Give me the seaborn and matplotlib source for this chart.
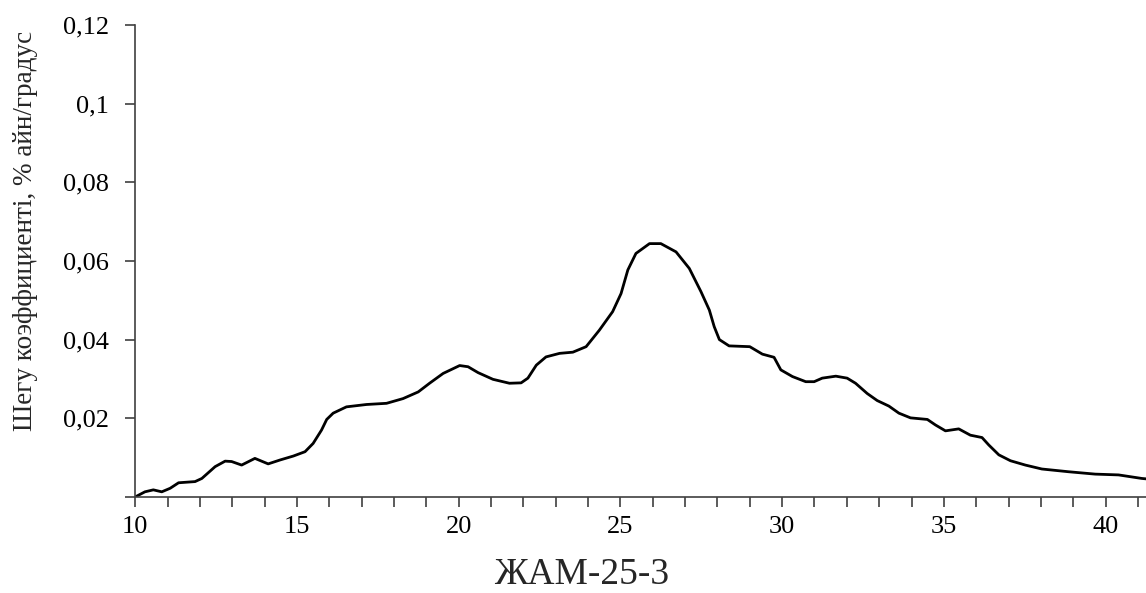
import numpy as np
import pandas as pd
import matplotlib
matplotlib.use('Agg')
import matplotlib.pyplot as plt
import seaborn as sns
from matplotlib.ticker import MultipleLocator

# curve
angle = [10.0, 10.3, 10.56, 10.82, 11.08, 11.34, 11.85, 12.06, 12.47, 12.78, 12.98,
         13.29, 13.7, 14.11, 14.48, 14.89, 15.25, 15.5, 15.76, 15.92, 16.12, 16.53,
         17.15, 17.77, 18.28, 18.75, 19.1, 19.52, 20.03, 20.29, 20.6, 21.06, 21.57,
         21.93, 22.14, 22.4, 22.7, 23.12, 23.53, 23.94, 24.35, 24.76, 25.02, 25.23,
         25.48, 25.9, 26.25, 26.72, 27.13, 27.49, 27.75, 27.9, 28.06, 28.36, 29.0,
         29.39, 29.75, 29.96, 30.32, 30.73, 30.99, 31.24, 31.66, 32.01, 32.27, 32.63,
         32.94, 33.3, 33.61, 33.97, 34.49, 34.74, 35.05, 35.46, 35.82, 36.18, 36.39,
         36.7, 37.06, 37.52, 38.03, 38.86, 39.68, 40.4, 41.12, 41.25]
coef = [0.0, 0.0013, 0.0018, 0.0013, 0.0022, 0.0036, 0.0039, 0.0047, 0.0077, 0.0091,
        0.009, 0.0081, 0.0098, 0.0084, 0.0094, 0.0104, 0.0115, 0.0136, 0.017, 0.0197,
        0.0213, 0.0229, 0.0235, 0.0238, 0.025, 0.0267, 0.0289, 0.0314, 0.0334, 0.0331,
        0.0316, 0.0299, 0.0289, 0.029, 0.0302, 0.0335, 0.0356, 0.0365, 0.0368, 0.0382,
        0.0424, 0.0471, 0.0517, 0.0577, 0.0619, 0.0644, 0.0644, 0.0623, 0.0581, 0.0522,
        0.0475, 0.0433, 0.04, 0.0384, 0.0382, 0.0363, 0.0355, 0.0323, 0.0306, 0.0293,
        0.0293, 0.0302, 0.0307, 0.0302, 0.0289, 0.0263, 0.0245, 0.0231, 0.0213, 0.0201,
        0.0197, 0.0183, 0.0168, 0.0173, 0.0157, 0.0151, 0.0132, 0.0107, 0.0092, 0.0081,
        0.0071, 0.0064, 0.0058, 0.0056, 0.0047, 0.0046]

y_ticks = [0, 0.02, 0.04, 0.06, 0.08, 0.1, 0.12]
y_labels = ['', '0,02', '0,04', '0,06', '0,08', '0,1', '0,12']
x_ticks = [10, 15, 20, 25, 30, 35, 40]

df = pd.DataFrame({'angle': angle, 'coef': coef})

sns.set_style('ticks')
plt.rcParams['font.family'] = ['Liberation Serif', 'DejaVu Serif']

fig = plt.figure(figsize=(11.46, 5.93), dpi=100)
ax = fig.add_axes([0.118, 0.162, 0.882, 0.796])

sns.lineplot(data=df, x='angle', y='coef', color='black', linewidth=2.0, ax=ax)

ax.set_xlim(10, 41.25)
ax.set_ylim(0, 0.12)
ax.set_xticks(x_ticks)
ax.set_xticklabels([str(t) for t in x_ticks])
ax.xaxis.set_minor_locator(MultipleLocator(1))
ax.set_yticks(y_ticks)
ax.set_yticklabels(y_labels)

sns.despine(ax=ax)
for s in ['left', 'bottom']:
    ax.spines[s].set_color('#404040')
    ax.spines[s].set_linewidth(1.2)
ax.tick_params(axis='both', which='both', direction='out', length=7, width=1.2,
               color='#404040', labelsize=19, labelcolor='black')
ax.tick_params(axis='x', pad=7)
ax.tick_params(axis='y', pad=12)

ax.set_xlabel('ЖАМ-25-3', fontsize=27)
ax.xaxis.set_label_coords(0.442, -0.128)
ax.set_ylabel('Шегу коэффициенті, % айн/градус', fontsize=19.5)
ax.yaxis.set_label_coords(-0.096, 0.564)

fig.savefig('out.png', dpi=100)
